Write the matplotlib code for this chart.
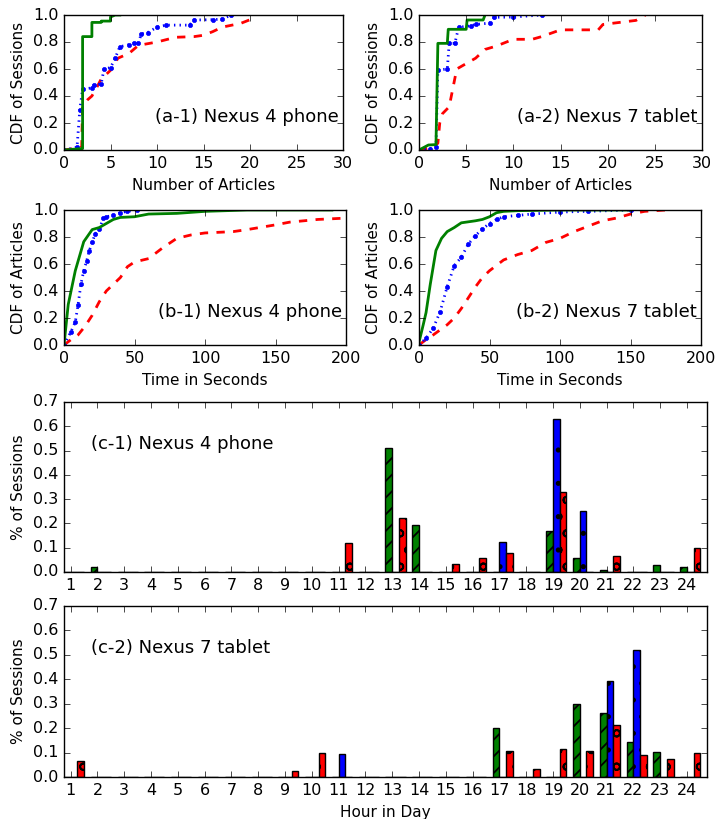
import matplotlib
matplotlib.use('Agg')
import numpy as np
import matplotlib.pyplot as plt

plt.style.use('classic')
plt.rcParams['font.family'] = ['DejaVu Sans']
plt.rcParams['hatch.linewidth'] = 1.3

# ---- (a) CDF of sessions vs number of articles ----
a1_green_x = [0, 1.8, 2, 2, 3, 3, 4, 4, 5, 5, 5.5, 6]
a1_green_y = [0.0, 0.01, 0.01, 0.84, 0.84, 0.945, 0.945, 0.955, 0.955, 0.985, 1.0, 1.0]
a1_blue_x = [0, 1.4, 1.7, 2, 3, 3.2, 4, 4.3, 5, 5.5, 6, 7, 7.5, 8, 8.3, 9, 10, 11, 13.5, 14, 16, 17, 18]
a1_blue_y = [0.0, 0.02, 0.3, 0.45, 0.46, 0.48, 0.49, 0.6, 0.61, 0.68, 0.765, 0.78, 0.79, 0.79, 0.86, 0.87, 0.91, 0.925, 0.925, 0.963, 0.965, 0.97, 1.0]
a1_red_x = [0, 1, 1.9, 2, 2.5, 3, 3.5, 4, 5, 5.8, 7, 8, 10, 12, 14, 15, 16, 17, 19, 20, 20.5]
a1_red_y = [0.0, 0.01, 0.02, 0.33, 0.37, 0.4, 0.46, 0.526, 0.59, 0.68, 0.716, 0.775, 0.8, 0.835, 0.84, 0.85, 0.877, 0.91, 0.938, 0.965, 1.0]

a2_green_x = [0, 1, 1.8, 2, 3, 3.1, 5, 5.1, 6.8, 7]
a2_green_y = [0.0, 0.037, 0.04, 0.79, 0.79, 0.894, 0.894, 0.963, 0.963, 1.0]
a2_blue_x = [0, 1.2, 1.8, 2, 3, 3.2, 3.8, 4.2, 5.5, 6, 7.5, 8, 10, 13]
a2_blue_y = [0.0, 0.01, 0.02, 0.593, 0.6, 0.79, 0.79, 0.909, 0.92, 0.93, 0.94, 0.983, 0.985, 1.0]
a2_red_x = [0, 1.5, 2, 2.2, 2.5, 3.2, 4, 5, 6, 7, 8.2, 10, 12, 13, 15, 19, 19.5, 23, 24]
a2_red_y = [0.0, 0.02, 0.05, 0.2, 0.27, 0.32, 0.6, 0.64, 0.68, 0.745, 0.77, 0.82, 0.82, 0.84, 0.89, 0.89, 0.93, 0.96, 1.0]

# ---- (b) CDF of articles vs time ----
b1_green_x = [0, 3, 8, 14, 20, 25, 30, 35, 40, 50, 60, 80, 100, 130, 190]
b1_green_y = [0.0, 0.3, 0.55, 0.765, 0.855, 0.87, 0.9, 0.93, 0.945, 0.95, 0.97, 0.975, 0.99, 1.0, 1.0]
b1_blue_x = [0, 5, 8, 10, 12, 14, 16, 18, 20, 22, 25, 28, 30, 35, 40, 45, 52]
b1_blue_y = [0.0, 0.1, 0.17, 0.3, 0.45, 0.55, 0.62, 0.7, 0.76, 0.82, 0.86, 0.94, 0.95, 0.96, 0.98, 0.99, 1.0]
b1_red_x = [0, 5, 10, 15, 20, 25, 30, 40, 45, 50, 60, 70, 80, 90, 100, 120, 130, 150, 160, 180, 200]
b1_red_y = [0.0, 0.04, 0.075, 0.14, 0.22, 0.32, 0.4, 0.5, 0.58, 0.615, 0.64, 0.72, 0.79, 0.815, 0.83, 0.84, 0.855, 0.89, 0.91, 0.93, 0.94]

b2_green_x = [0, 3, 5, 8, 12, 16, 20, 25, 30, 40, 45, 50, 55, 60, 70, 100, 150]
b2_green_y = [0.02, 0.15, 0.24, 0.45, 0.7, 0.79, 0.84, 0.87, 0.905, 0.92, 0.93, 0.95, 0.98, 0.99, 0.995, 1.0, 1.0]
b2_blue_x = [0, 5, 10, 15, 20, 25, 30, 35, 40, 45, 50, 55, 60, 70, 80, 100, 120, 150]
b2_blue_y = [0.0, 0.05, 0.123, 0.247, 0.432, 0.588, 0.65, 0.748, 0.81, 0.86, 0.9, 0.93, 0.95, 0.96, 0.97, 0.985, 0.99, 1.0]
b2_red_x = [0, 5, 10, 20, 25, 30, 35, 40, 45, 50, 60, 70, 80, 90, 100, 110, 120, 130, 140, 150, 160, 175, 180]
b2_red_y = [0.0, 0.04, 0.074, 0.15, 0.2, 0.27, 0.35, 0.43, 0.5, 0.55, 0.63, 0.67, 0.7, 0.76, 0.79, 0.84, 0.88, 0.92, 0.94, 0.97, 0.99, 1.0, 1.0]

# ---- (c) hourly distribution of sessions ----
hours = list(range(1, 25))
#            1  2     3  4  5  6  7  8  9  10 11    12 13     14     15     16     17     18 19     20     21     22 23     24
c1_green = [0, 0.02, 0, 0, 0, 0, 0, 0, 0, 0, 0,    0, 0.51,  0.195, 0,     0,     0,     0, 0.167, 0.056, 0.01,  0, 0.029, 0.019]
c1_blue  = [0, 0,    0, 0, 0, 0, 0, 0, 0, 0, 0,    0, 0,     0,     0,     0,     0.125, 0, 0.63,  0.25,  0,     0, 0,     0]
c1_red   = [0, 0,    0, 0, 0, 0, 0, 0, 0, 0, 0.12, 0, 0.223, 0,     0.033, 0.056, 0.079, 0, 0.33,  0,     0.066, 0, 0,     0.098]

c2_green = [0,     0, 0, 0, 0, 0, 0, 0, 0,     0,     0,     0, 0, 0, 0, 0, 0.2,   0,     0,     0.298, 0.263, 0.144, 0.101, 0]
c2_blue  = [0,     0, 0, 0, 0, 0, 0, 0, 0,     0,     0.093, 0, 0, 0, 0, 0, 0,     0,     0,     0,     0.393, 0.521, 0,     0]
c2_red   = [0.066, 0, 0, 0, 0, 0, 0, 0, 0.023, 0.097, 0,     0, 0, 0, 0, 0, 0.105, 0.031, 0.116, 0.105, 0.212, 0.089, 0.074, 0.097]

W, H = 717, 819
fig = plt.figure(figsize=(W / 100.0, H / 100.0), dpi=100, facecolor='white')


def box(l, t, r, b):
    return [l / W, 1 - b / H, (r - l) / W, (b - t) / H]


def cdf_panel(rect, curves, xmax, xlabel, ylabel, note):
    ax = fig.add_axes(rect)
    gx, gy, bx, by, rx, ry = curves
    ax.plot(rx, ry, 'r--', lw=2)
    ax.plot(bx, by, 'b:', lw=2, marker='.', markersize=6, markeredgecolor='b')
    ax.plot(gx, gy, 'g-', lw=2)
    ax.set_xlim(0, xmax)
    ax.set_ylim(0, 1)
    ax.set_yticks(np.arange(0, 1.01, 0.2))
    ax.set_xlabel(xlabel, fontsize=11)
    ax.set_ylabel(ylabel, fontsize=11)
    ax.tick_params(labelsize=11.5)
    ax.text(0.985, 0.245, note, transform=ax.transAxes, ha='right', va='center', fontsize=13)
    return ax


cdf_panel(box(64, 15, 343, 150), (a1_green_x, a1_green_y, a1_blue_x, a1_blue_y, a1_red_x, a1_red_y),
          30, 'Number of Articles', 'CDF of Sessions', '(a-1) Nexus 4 phone')
cdf_panel(box(419, 15, 702, 150), (a2_green_x, a2_green_y, a2_blue_x, a2_blue_y, a2_red_x, a2_red_y),
          30, 'Number of Articles', 'CDF of Sessions', '(a-2) Nexus 7 tablet')
cdf_panel(box(64, 210, 346, 345), (b1_green_x, b1_green_y, b1_blue_x, b1_blue_y, b1_red_x, b1_red_y),
          200, 'Time in Seconds', 'CDF of Articles', '(b-1) Nexus 4 phone')
cdf_panel(box(419, 210, 701, 345), (b2_green_x, b2_green_y, b2_blue_x, b2_blue_y, b2_red_x, b2_red_y),
          200, 'Time in Seconds', 'CDF of Articles', '(b-2) Nexus 7 tablet')


def bar_panel(rect, green, blue, red, note, xlabel=None):
    ax = fig.add_axes(rect)
    hx = np.array(hours, dtype=float)
    ax.bar(hx - 0.25, green, 0.25, align='edge', color='g', edgecolor='k', hatch='//')
    ax.bar(hx, blue, 0.25, align='edge', color='b', edgecolor='k', hatch='.')
    ax.bar(hx + 0.25, red, 0.25, align='edge', color='r', edgecolor='k', hatch='o')
    ax.set_xlim(0.75, 24.75)
    ax.set_ylim(0, 0.7)
    ax.set_xticks(hours)
    ax.set_yticks(np.arange(0, 0.71, 0.1))
    ax.tick_params(labelsize=11.5)
    ax.set_ylabel('% of Sessions', fontsize=11)
    if xlabel:
        ax.set_xlabel(xlabel, fontsize=11)
    ax.text(0.0415, 0.753, note, transform=ax.transAxes, ha='left', va='center', fontsize=13)
    return ax


bar_panel(box(64, 402, 707, 572), c1_green, c1_blue, c1_red, '(c-1) Nexus 4 phone')
bar_panel(box(64, 606, 707, 777), c2_green, c2_blue, c2_red, '(c-2) Nexus 7 tablet', 'Hour in Day')

fig.savefig('out.png', dpi=100, facecolor='white')
